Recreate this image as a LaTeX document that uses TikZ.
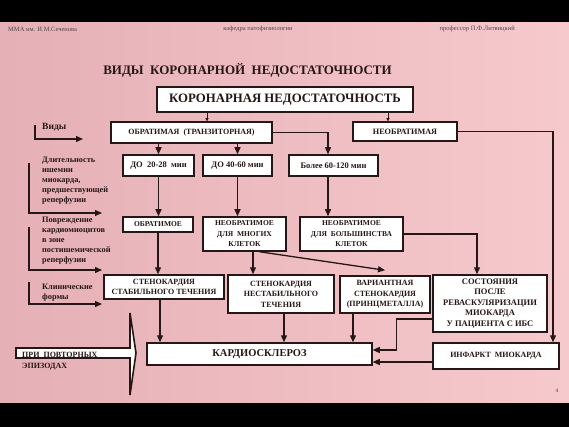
\documentclass[tikz,border=0pt]{standalone}
\usepackage{fontspec}
\setmainfont{Liberation Serif}
\usepackage{tikz}
\usetikzlibrary{positioning,arrows,arrows.meta}
\definecolor{pinkL}{RGB}{229,176,182}
\definecolor{pinkR}{RGB}{246,201,204}
\definecolor{ink}{RGB}{38,22,22}
\tikzset{
box/.style = {draw=ink, fill=white, line width=1.5pt, inner sep=1pt, align=center, text=ink,
  font=\bfseries\fontsize{#1}{10.5}\selectfont},
box/.default = 7.5, % font size in the box
lbl/.style = {anchor=north west, inner sep=0pt, align=left, text=ink, font=\bfseries\fontsize{8.3}{10}\selectfont},
hdr/.style = {inner sep=0pt, text=ink!80, font=\fontsize{6.5}{7}\selectfont}
}
\tikzset{arr/.style={draw=ink, line width=1.3pt, -{Triangle[length=7pt,width=6pt]}}}
\tikzset{thinarr/.style={draw=ink, line width=0.6pt, -{Triangle[length=3pt,width=3pt]}}}

\begin{document}
\begin{tikzpicture}[x=1pt, y=-1pt]
\useasboundingbox (0,0) rectangle (569,427);
\shade[left color=pinkL, right color=pinkR] (0,22) rectangle (569,403);
\fill[black] (0,0) rectangle (569,22);
\fill[black] (0,403) rectangle (569,427);

% header line
\node[hdr, anchor=west] (h1) at (8,29) {ММА им. И.М.Сеченова};
\node[hdr] (h2) at (258,29) {кафедра патофизиологии};
\node[hdr, anchor=east] (h3) at (515,29) {профессор П.Ф.Литвицкий};
\node[text=ink, inner sep=0pt, font=\bfseries\fontsize{13}{15}\selectfont] (title) at (247.5,70)
  {ВИДЫ~~КОРОНАРНОЙ~~НЕДОСТАТОЧНОСТИ};

\node[box=12.8, minimum width=256pt, minimum height=25pt] (kor) at (285,99.5) {КОРОНАРНАЯ НЕДОСТАТОЧНОСТЬ};
\node[box=8, minimum width=161pt, minimum height=21pt] (obr) at (191.5,132.5) {ОБРАТИМАЯ~~(ТРАНЗИТОРНАЯ)};
\node[box=8.2, minimum width=104pt, minimum height=19pt] (neobr) at (405,131.5) {НЕОБРАТИМАЯ};

\node[box=8.5, minimum width=71pt, minimum height=21pt] (d1) at (158.5,165.5) {ДО~~20-28~~мин};
\node[box=8.5, minimum width=69pt, minimum height=21pt] (d2) at (237.5,165.5) {ДО 40-60 мин};
\node[box=8.5, minimum width=89pt, minimum height=21pt] (d3) at (333.5,165.5) {Более 60-120 мин};

\node[box, minimum width=70pt, minimum height=15pt] (r1) at (158,224.5) {ОБРАТИМОЕ};
\node[box, minimum width=83pt, minimum height=34pt] (r2) at (244.5,234) {НЕОБРАТИМОЕ\\ДЛЯ~~МНОГИХ\\КЛЕТОК};
\node[box, minimum width=103pt, minimum height=34pt] (r3) at (351.5,234) {НЕОБРАТИМОЕ\\ДЛЯ~~БОЛЬШИНСТВА\\КЛЕТОК};

\node[box=8, minimum width=120pt, minimum height=24pt] (c1) at (164,287) {СТЕНОКАРДИЯ\\СТАБИЛЬНОГО ТЕЧЕНИЯ};
\node[box=8, minimum width=106pt, minimum height=38pt] (c2) at (281,294) {СТЕНОКАРДИЯ\\НЕСТАБИЛЬНОГО\\ТЕЧЕНИЯ};
\node[box=8, minimum width=90pt, minimum height=37pt] (c3) at (385,294.5) {ВАРИАНТНАЯ\\СТЕНОКАРДИЯ\\(ПРИНЦМЕТАЛЛА)};
\node[box=8.5, minimum width=114pt, minimum height=57pt] (c4) at (490,303.5)
  {СОСТОЯНИЯ\\ПОСЛЕ\\РЕВАСКУЛЯРИЗАЦИИ\\МИОКАРДА\\У ПАЦИЕНТА С ИБС};

\node[box=10.5, minimum width=225pt, minimum height=22pt] (ks) at (259.5,354) {КАРДИОСКЛЕРОЗ};
\node[box=8, minimum width=126pt, minimum height=26pt] (im) at (496,356) {ИНФАРКТ~~МИОКАРДА};

% left side
\node[lbl, anchor=west, font=\bfseries\fontsize{9.5}{11}\selectfont] (vidy) at (42,127) {Виды};
\node[lbl] (dlit) at (42,157) {Длительность\\ишемии\\миокарда,\\предшествующей\\реперфузии};
\node[lbl] (povr) at (42,217) {Повреждение\\кардиомиоцитов\\в зоне\\постишемической\\реперфузии};
\node[lbl] (klin) at (42,284) {Клинические\\формы};
\coordinate (v1) at (35,125);  \coordinate (v2) at (83,139);
\coordinate (dl1) at (29,163); \coordinate (dl2) at (102,213);
\coordinate (pv1) at (29,227); \coordinate (pv2) at (102,270);
\coordinate (kl1) at (29,282); \coordinate (kl2) at (102,304);
\draw[arr] (v1) |- (v2);
\draw[arr] (dl1) |- (dl2);
\draw[arr] (pv1) |- (pv2);
\draw[arr] (kl1) |- (kl2);

% repeated episodes
\draw[draw=ink, fill=white, line width=1.6pt, line join=miter]
  (16,348) -- (130,348) -- (130,313) -- (136,353) -- (130,395) -- (130,358) -- (16,358) -- cycle;
\node[lbl, font=\bfseries\fontsize{8}{11}\selectfont] (povt) at (22,352.5) {ПРИ~~ПОВТОРНЫХ\\ЭПИЗОДАХ};

\node[hdr, font=\fontsize{5.5}{6}\selectfont] (pnum) at (557,391) {4};

% connectors
\draw[thinarr] ([xshift=-78pt]kor.south) -- ([xshift=15.5pt]obr.north);
\draw[thinarr] ([xshift=103pt]kor.south) -- ([xshift=-17pt]neobr.north);
\draw[arr] (obr.east) -| ([xshift=-5.5pt]d3.north);
\draw[arr] (neobr.east) -| ([xshift=57pt]im.north);
\draw[arr] (d1.north |- obr.south) -- (d1.north);
\draw[arr] (d2.north |- obr.south) -- (d2.north);
\draw[arr] (d1.south) -- (d1.south |- r1.north);
\draw[arr] (d2.south) -- (d2.south |- r2.north);
\draw[arr] ([xshift=-5.5pt]d3.south) -- ([xshift=-5.5pt]d3.south |- r3.north);
\draw[arr] (r1.south) -- (r1.south |- c1.north);
\draw[arr] ([xshift=8.5pt]r2.south) -- ([xshift=8.5pt]r2.south |- c2.north);
\draw[arr] ([xshift=15pt]r2.south) -- ([yshift=5pt]c3.north);
\draw[arr] (r3.east) -| ([xshift=-13pt]c4.north);
\draw[arr] ([xshift=-4pt]c1.south) -- ([xshift=-4pt]c1.south |- ks.north);
\draw[arr] ([xshift=3pt]c2.south) -- ([xshift=3pt]c2.south |- ks.north);
\draw[arr] ([xshift=-32pt]c3.south) -- ([xshift=-32pt]c3.south |- ks.north);
\draw[arr] ([yshift=-15.5pt]c4.west) -- ++(-36,0) |- ([yshift=4pt]ks.east);
\draw[arr] ([yshift=-6pt]im.west) -- ([yshift=-8pt]ks.east);
\end{tikzpicture}
\end{document}
